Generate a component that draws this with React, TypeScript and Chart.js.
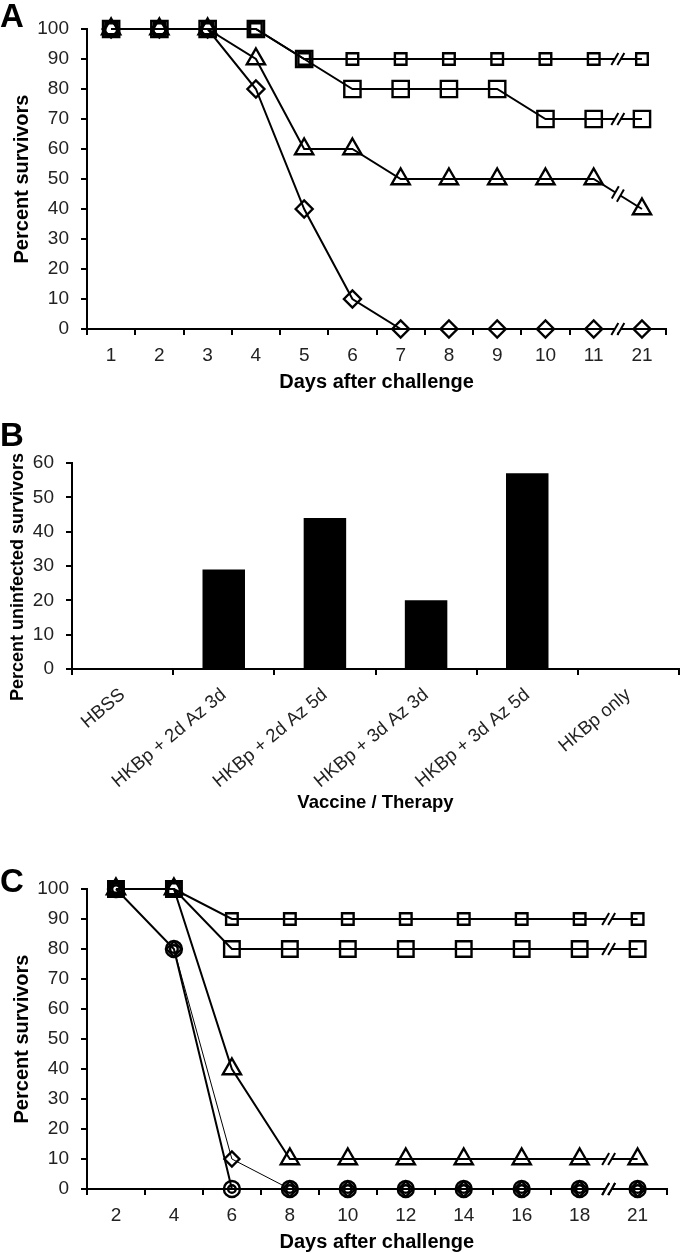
import React, { useEffect, useRef } from 'react';
import { Chart, registerables } from 'chart.js';

Chart.register(...registerables);

// ---------- Data ----------
const daysA = ['1', '2', '3', '4', '5', '6', '7', '8', '9', '10', '11', '21'];
const aSmallSquare = [100, 100, 100, 100, 90, 90, 90, 90, 90, 90, 90, 90];
const aBigSquare = [100, 100, 100, 100, 90, 80, 80, 80, 80, 70, 70, 70];
const aTriangle = [100, 100, 100, 90, 60, 60, 50, 50, 50, 50, 50, 40];
const aDiamond = [100, 100, 100, 80, 40, 10, 0, 0, 0, 0, 0, 0];

const groupsB = ['HBSS', 'HKBp + 2d Az 3d', 'HKBp + 2d Az 5d', 'HKBp + 3d Az 3d', 'HKBp + 3d Az 5d', 'HKBp only'];
const valuesB = [0, 29, 44, 20, 57, 0];
const titleBY = 'Percent uninfected survivors';

const daysC = ['2', '4', '6', '8', '10', '12', '14', '16', '18', '21'];
const cSmallSquare = [100, 100, 90, 90, 90, 90, 90, 90, 90, 90];
const cBigSquare = [100, 100, 80, 80, 80, 80, 80, 80, 80, 80];
const cTriangle = [100, 100, 40, 10, 10, 10, 10, 10, 10, 10];
const cDiamond = [100, 80, 10, 0, 0, 0, 0, 0, 0, 0];
const cCircle = [100, 80, 0, 0, 0, 0, 0, 0, 0, 0];

const FONT = "'Liberation Sans', Arial, sans-serif";

// Break marks "//" between the last two points of each line
const breakPlugin = {
  id: 'breakMarks',
  afterDatasetsDraw(chart: any) {
    const opts = chart.options.plugins.breakMarks;
    if (!opts || !opts.enabled) return;
    const ctx = chart.ctx;
    chart.data.datasets.forEach((ds: any, i: number) => {
      if (ds.showLine === false) return;
      const meta = chart.getDatasetMeta(i);
      const n = meta.data.length;
      if (n < 2) return;
      const p1 = meta.data[n - 2];
      const p2 = meta.data[n - 1];
      const mx = (p1.x + p2.x) / 2;
      const my = (p1.y + p2.y) / 2;
      const ang = Math.atan2(p2.y - p1.y, p2.x - p1.x);
      const ux = Math.cos(ang);
      const uy = Math.sin(ang);
      const dx = Math.cos(-Math.PI / 3);
      const dy = Math.sin(-Math.PI / 3);
      const half = 7;
      const gap = 3;
      const c1 = { x: mx - ux * gap, y: my - uy * gap };
      const c2 = { x: mx + ux * gap, y: my + uy * gap };
      ctx.save();
      ctx.fillStyle = '#fff';
      ctx.beginPath();
      ctx.moveTo(c1.x - dx * 4, c1.y - dy * 4);
      ctx.lineTo(c1.x + dx * 4, c1.y + dy * 4);
      ctx.lineTo(c2.x + dx * 4, c2.y + dy * 4);
      ctx.lineTo(c2.x - dx * 4, c2.y - dy * 4);
      ctx.closePath();
      ctx.fill();
      ctx.strokeStyle = '#000';
      ctx.lineWidth = 2;
      [c1, c2].forEach((c) => {
        ctx.beginPath();
        ctx.moveTo(c.x - dx * half, c.y - dy * half);
        ctx.lineTo(c.x + dx * half, c.y + dy * half);
        ctx.stroke();
      });
      ctx.restore();
    });
  },
};

// Rotated y-axis title drawn at a given spot (panel B)
const yTitlePlugin = {
  id: 'yTitleFree',
  afterDraw(chart: any) {
    const o = chart.options.plugins.yTitleFree;
    if (!o || !o.text) return;
    const ctx = chart.ctx;
    ctx.save();
    ctx.translate(o.x, o.y);
    ctx.rotate(-Math.PI / 2);
    ctx.font = `bold ${o.size}px ${FONT}`;
    ctx.fillStyle = '#000';
    ctx.textAlign = 'center';
    ctx.textBaseline = 'middle';
    ctx.fillText(o.text, 0, 0);
    ctx.restore();
  },
};

function lineDs(data: number[], style: string, radius: number, lineWidth = 2, showLine = true) {
  return {
    data,
    borderColor: '#000',
    borderWidth: lineWidth,
    showLine,
    tension: 0,
    pointStyle: style,
    pointRadius: radius,
    pointBorderWidth: 2.4,
    pointBorderColor: '#000',
    pointBackgroundColor: 'rgba(0,0,0,0)',
    clip: false,
  };
}

function axisX(title: string, height: number, titleSize: number, titleBottom: number, tickSize: number, extra: any = {}) {
  return {
    type: 'category',
    offset: true,
    grid: { offset: true, drawOnChartArea: false, drawTicks: true, tickLength: 6, color: '#000', lineWidth: 2 },
    border: { color: '#000', width: 2 },
    ticks: { color: '#222', font: { size: tickSize, family: FONT }, padding: 9, autoSkip: false, maxRotation: 0, ...extra },
    title: {
      display: true,
      text: title,
      color: '#000',
      font: { size: titleSize, weight: 'bold', family: FONT, lineHeight: 1 },
      padding: { top: 0, bottom: titleBottom },
    },
    afterFit: (s: any) => {
      s.height = height;
    },
  };
}

function axisY(title: string, max: number, width: number, titleSize: number, titleTop: number, showTitle = true) {
  return {
    min: 0,
    max,
    grid: { drawOnChartArea: false, drawTicks: true, tickLength: 6, color: '#000', lineWidth: 2 },
    border: { color: '#000', width: 2 },
    ticks: { stepSize: 10, color: '#222', font: { size: 19, family: FONT }, padding: 12 },
    title: {
      display: showTitle,
      text: title,
      color: '#000',
      font: { size: titleSize, weight: 'bold', family: FONT, lineHeight: 1 },
      padding: { top: titleTop, bottom: 0 },
    },
    afterFit: (s: any) => {
      s.width = width;
    },
  };
}

const basePlugins = {
  legend: { display: false },
  tooltip: { enabled: false },
};

export default function App() {
  const refA = useRef<HTMLCanvasElement>(null);
  const refB = useRef<HTMLCanvasElement>(null);
  const refC = useRef<HTMLCanvasElement>(null);

  useEffect(() => {
    const charts: Chart[] = [];

    charts.push(
      new Chart(refA.current as HTMLCanvasElement, {
        type: 'line',
        data: {
          labels: daysA,
          datasets: [
            lineDs(aSmallSquare, 'rect', 8.2),
            lineDs(aBigSquare, 'rect', 11.5),
            lineDs(aTriangle, 'triangle', 10.5),
            lineDs(aDiamond, 'rectRot', 8.5),
          ] as any,
        },
        options: {
          responsive: false,
          animation: false,
          layout: { padding: { top: 29, right: 3, left: 0, bottom: 0 } },
          plugins: { ...basePlugins, breakMarks: { enabled: true } } as any,
          scales: {
            x: axisX('Days after challenge', 71, 20, 8, 19) as any,
            y: axisY('Percent survivors', 100, 87, 20, 12) as any,
          },
        },
        plugins: [breakPlugin],
      })
    );

    charts.push(
      new Chart(refB.current as HTMLCanvasElement, {
        type: 'bar',
        data: {
          labels: groupsB,
          datasets: [
            {
              data: valuesB,
              backgroundColor: '#000',
              borderWidth: 0,
              barPercentage: 0.42,
              categoryPercentage: 1,
            },
          ],
        },
        options: {
          responsive: false,
          animation: false,
          layout: { padding: { top: 43, right: 1, left: 0, bottom: 0 } },
          plugins: { ...basePlugins, yTitleFree: { text: titleBY, x: 18, y: 157, size: 18 } } as any,
          scales: {
            x: axisX('Vaccine / Therapy', 151, 18.5, 8, 18.5, { minRotation: 40, maxRotation: 40, padding: 9 }) as any,
            y: axisY(titleBY, 60, 72, 18, 8, false) as any,
          },
        },
        plugins: [yTitlePlugin],
      })
    );

    charts.push(
      new Chart(refC.current as HTMLCanvasElement, {
        type: 'line',
        data: {
          labels: daysC,
          datasets: [
            lineDs(cSmallSquare, 'rect', 8.2),
            lineDs(cBigSquare, 'rect', 11),
            lineDs(cTriangle, 'triangle', 10.5),
            lineDs(cDiamond, 'rectRot', 7.5, 1),
            lineDs(cCircle, 'circle', 8),
            lineDs(cCircle, 'circle', 3.8, 2, false),
          ] as any,
        },
        options: {
          responsive: false,
          animation: false,
          layout: { padding: { top: 59, right: 2, left: 0, bottom: 0 } },
          plugins: { ...basePlugins, breakMarks: { enabled: true } } as any,
          scales: {
            x: axisX('Days after challenge', 64, 20, 1, 19) as any,
            y: axisY('Percent survivors', 100, 87, 20, 12) as any,
          },
        },
        plugins: [breakPlugin],
      })
    );

    return () => {
      charts.forEach((c) => c.destroy());
    };
  }, []);

  const letter = (text: string, top: number): React.ReactNode => (
    <div
      style={{
        position: 'absolute',
        left: 0,
        top,
        fontFamily: FONT,
        fontWeight: 'bold',
        fontSize: 33,
        lineHeight: '33px',
        color: '#000',
      }}
    >
      {text}
    </div>
  );

  return (
    <div style={{ position: 'absolute', left: 0, top: 0, width: 680, height: 1253, background: '#fff', overflow: 'hidden' }}>
      <canvas ref={refA} width={680} height={400} style={{ position: 'absolute', left: 0, top: 0, width: 680, height: 400 }} />
      <canvas ref={refB} width={680} height={400} style={{ position: 'absolute', left: 0, top: 420, width: 680, height: 400 }} />
      <canvas ref={refC} width={680} height={423} style={{ position: 'absolute', left: 0, top: 830, width: 680, height: 423 }} />
      {letter('A', -1)}
      {letter('B', 418)}
      {letter('C', 864)}
    </div>
  );
}
